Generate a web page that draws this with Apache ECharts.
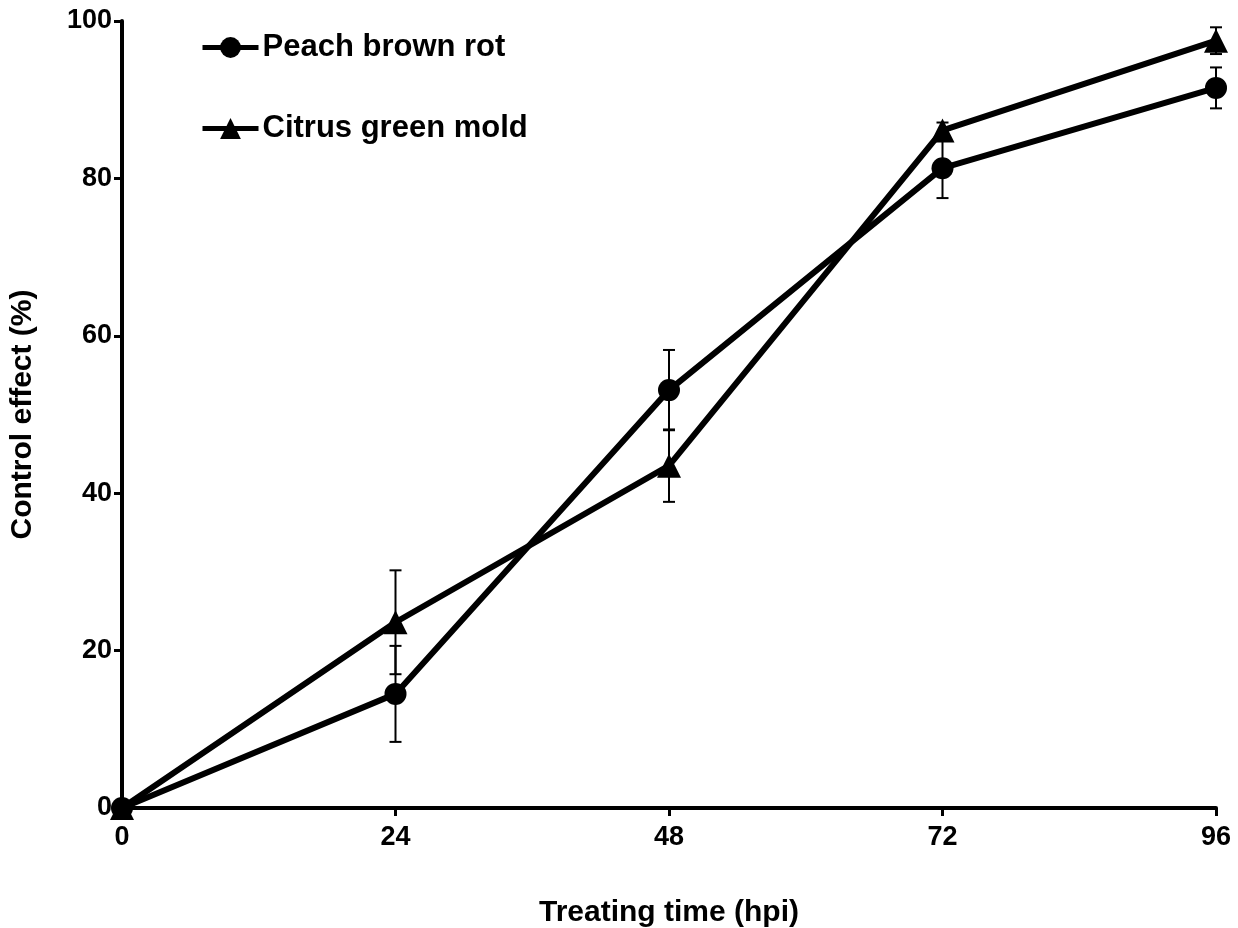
<!DOCTYPE html>
<html>
<head>
<meta charset="utf-8">
<script src="https://cdn.jsdelivr.net/npm/echarts@6/dist/echarts.min.js"></script>
<style>html,body{margin:0;padding:0;background:#fff}#c{width:1238px;height:928px}</style>
</head>
<body>
<div id="c"></div>
<script>
const hours = [0, 24, 48, 72, 96];
const peachMean = [0, 14.5, 53.1, 81.3, 91.5];
const peachErr  = [0, 6.1, 5.1, 3.8, 2.6];
const citrusMean = [0, 23.6, 43.5, 86.1, 97.5];
const citrusErr  = [0, 6.6, 4.6, 1.0, 1.7];
const seriesNames = ['Peach brown rot', 'Citrus green mold'];
const xTicks = [0, 24, 48, 72, 96];
const yTicks = [0, 20, 40, 60, 80, 100];

const FONT = '"Liberation Sans", Arial, sans-serif';

function errData(mean, err) {
  return hours.map((h, i) => [h, mean[i] - err[i], mean[i] + err[i]]);
}
function errRender(params, api) {
  const x = api.value(0);
  if (api.value(2) - api.value(1) <= 0) return null;
  const lo = api.coord([x, api.value(1)]);
  const hi = api.coord([x, api.value(2)]);
  const hw = 6;
  const style = { stroke: '#000', lineWidth: 2 };
  return {
    type: 'group',
    children: [
      { type: 'line', shape: { x1: lo[0], y1: lo[1], x2: hi[0], y2: hi[1] }, style },
      { type: 'line', shape: { x1: lo[0] - hw, y1: lo[1], x2: lo[0] + hw, y2: lo[1] }, style },
      { type: 'line', shape: { x1: hi[0] - hw, y1: hi[1], x2: hi[0] + hw, y2: hi[1] }, style }
    ]
  };
}

const chart = echarts.init(document.getElementById('c'), null, { renderer: 'canvas' });
chart.setOption({
  backgroundColor: '#fff',
  animation: false,
  grid: { left: 122, right: 22, top: 21, bottom: 120, containLabel: false, outerBoundsMode: 'none' },
  legend: {
    data: seriesNames,
    orient: 'vertical',
    left: 200,
    top: 32,
    padding: 0,
    itemGap: 50,
    itemWidth: 56,
    itemHeight: 26,
    lineStyle: { width: 5, color: '#000' },
    textStyle: { fontFamily: FONT, fontWeight: 'bold', fontSize: 31, color: '#000', padding: [0, 0, 0, -1] }
  },
  xAxis: {
    type: 'value', min: 0, max: 96, interval: 24,
    name: 'Treating time (hpi)', nameLocation: 'middle', nameGap: 90,
    nameTextStyle: { fontFamily: FONT, fontWeight: 'bold', fontSize: 30, color: '#000' },
    axisLine: { onZero: false, lineStyle: { color: '#000', width: 4 } },
    axisTick: { show: true, length: 8, lineStyle: { color: '#000', width: 3 } },
    axisLabel: { margin: 16, fontFamily: FONT, fontWeight: 'bold', fontSize: 27, color: '#000',
      formatter: v => xTicks.includes(v) ? String(v) : '' },
    splitLine: { show: false }
  },
  yAxis: {
    type: 'value', min: 0, max: 100, interval: 20,
    name: 'Control effect (%)', nameLocation: 'middle', nameGap: 84,
    nameTextStyle: { fontFamily: FONT, fontWeight: 'bold', fontSize: 30, color: '#000' },
    axisLine: { show: true, lineStyle: { color: '#000', width: 4 } },
    axisTick: { show: true, length: 8, lineStyle: { color: '#000', width: 3 } },
    axisLabel: { margin: 10, fontFamily: FONT, fontWeight: 'bold', fontSize: 27, color: '#000',
      formatter: v => yTicks.includes(v) ? String(v) : '' },
    splitLine: { show: false }
  },
  series: [
    {
      name: seriesNames[0], type: 'line', clip: false,
      data: hours.map((h, i) => [h, peachMean[i]]),
      symbol: 'circle', symbolSize: 22,
      lineStyle: { color: '#000', width: 6 },
      itemStyle: { color: '#000' }, z: 3
    },
    {
      name: seriesNames[1], type: 'line', clip: false,
      data: hours.map((h, i) => [h, citrusMean[i]]),
      symbol: 'triangle', symbolSize: 24,
      lineStyle: { color: '#000', width: 6 },
      itemStyle: { color: '#000' }, z: 3
    },
    { type: 'custom', name: 'peachErr', renderItem: errRender, data: errData(peachMean, peachErr), clip: false, z: 4, encode: { x: 0, y: [1, 2] } },
    { type: 'custom', name: 'citrusErr', renderItem: errRender, data: errData(citrusMean, citrusErr), clip: false, z: 4, encode: { x: 0, y: [1, 2] } }
  ]
});
</script>
</body>
</html>
